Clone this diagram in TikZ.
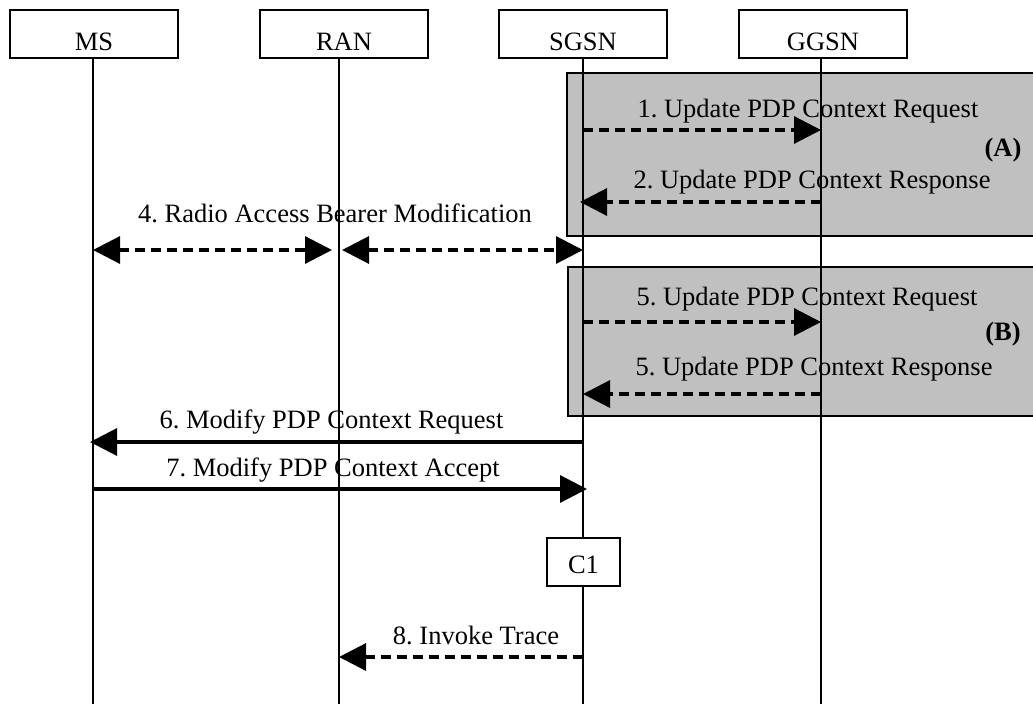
\documentclass[tikz,border=0pt]{standalone}
\usepackage{fontspec}
\setmainfont{Liberation Serif}
\usetikzlibrary{arrows.meta}
\definecolor{boxgray}{HTML}{C0C0C0}
\frenchspacing
\begin{document}
\begin{tikzpicture}[x=1pt,y=-1pt,
  txt/.style={font=\fontsize{26.5}{30}\selectfont},
  actor/.style={txt, draw, line width=1.3pt, minimum width=168pt, inner xsep=0pt, inner ysep=0pt,
                text height=40pt, text depth=8pt, anchor=base, fill=white},
  marker/.style={txt, draw, line width=1.3pt, minimum width=73pt, inner xsep=0pt, inner ysep=0pt,
                text height=35pt, text depth=13pt, anchor=base, fill=white},
  lifeline/.style={line width=1.5pt},
  msg/.style={line width=3.2pt, -{Triangle[length=27pt,width=27pt]}},
  dmsg/.style={msg, dash pattern=on 10pt off 6pt},
  bmsg/.style={dmsg, {Triangle[length=27pt,width=27pt]}-{Triangle[length=27pt,width=27pt]}},
  lbl/.style={txt, anchor=base, inner sep=0pt},
  blbl/.style={lbl, font=\fontsize{26.5}{30}\selectfont\bfseries},
  region/.style={fill=boxgray, draw=black, line width=1.3pt}]

\clip (0,0) rectangle (1033,704);
\fill[white] (0,0) rectangle (1033,704);

% shaded regions
\draw[region] (567,73) rectangle (1050,236);
\draw[region] (568,267) rectangle (1050,416);

% lifeline anchors
\coordinate (msL) at (93,58);   \coordinate (msE) at (93,704);
\coordinate (ranL) at (339,58); \coordinate (ranE) at (339,704);
\coordinate (sgL) at (583,58);  \coordinate (sgE) at (583,704);
\coordinate (ggL) at (821,58);  \coordinate (ggE) at (821,704);

% lifelines
\draw[lifeline] (msL) -- (msE);
\draw[lifeline] (ranL) -- (ranE);
\draw[lifeline] (sgL) -- (sgE);
\draw[lifeline] (ggL) -- (ggE);

% actors
\node[actor] (ms) at (94,50) {MS};
\node[actor] (ran) at (344,50) {RAN};
\node[actor] (sgsn) at (583,50) {SGSN};
\node[actor] (ggsn) at (823,50) {GGSN};

% C1
\node[marker] (c1) at (583.5,573) {C1};

% messages
\draw[dmsg] (sgL |- 0,130) -- (ggL |- 0,130);
\draw[dmsg] (ggL |- 0,202) -- ([xshift=-3pt]sgL |- 0,202);
\draw[bmsg] (msL |- 0,250) -- ([xshift=-7pt]ranL |- 0,250);
\draw[bmsg] ([xshift=3pt]ranL |- 0,250) -- (sgL |- 0,250);
\draw[dmsg] (sgL |- 0,322) -- (ggL |- 0,322);
\draw[dmsg] (ggL |- 0,394) -- (sgL |- 0,394);
\draw[msg] (sgL |- 0,442) -- ([xshift=-3pt]msL |- 0,442);
\draw[msg] (msL |- 0,489) -- ([xshift=4pt]sgL |- 0,489);
\draw[dmsg] (sgL |- 0,657) -- (ranL |- 0,657);

% labels
\node[lbl] (l1) at (808,117) {1. Update PDP Context Request};
\node[lbl] (l2) at (812,188) {2. Update PDP Context Response};
\node[blbl] (la) at (1003,156) {(A)};
\node[lbl] (l4) at (335,222) {4. Radio Access Bearer Modification};
\node[lbl] (l5a) at (807,305) {5. Update PDP Context Request};
\node[lbl] (l5b) at (814,375) {5. Update PDP Context Response};
\node[blbl] (lb) at (1003,340) {(B)};
\node[lbl] (l6) at (331.5,428) {6. Modify PDP Context Request};
\node[lbl] (l7) at (333,476) {7. Modify PDP Context Accept};
\node[lbl] (l8) at (476,644) {8. Invoke Trace};
\end{tikzpicture}
\end{document}
